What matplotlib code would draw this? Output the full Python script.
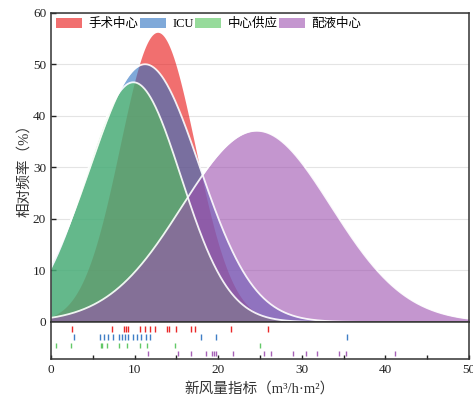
import numpy as np
import matplotlib
matplotlib.use("Agg")
import matplotlib.pyplot as plt

plt.rcParams['font.family'] = ['Liberation Serif', 'Noto Sans CJK SC', 'DejaVu Sans']
plt.rcParams['axes.unicode_minus'] = False

# ---- data ----
series = ['手术中心', 'ICU', '中心供应', '配液中心']
colors = ['#E81010', '#2A70C0', '#52C358', '#9D50AF']
edge_lines = [False, True, True, True]

# fitted normal curves (centre, spread, peak %)
curve_center = [12.75, 11.25, 9.85, 24.6]
curve_spread = [4.5, 6.5, 5.7, 8.9]
curve_peak = [56.2, 50.0, 46.5, 37.1]

# observations (rug)
obs_surgery = [2.51, 7.31, 8.74, 8.98, 9.22, 10.69, 11.29, 11.89, 12.42, 13.89,
               14.13, 15.0, 16.73, 17.28, 21.56, 26.0]
obs_icu = [2.75, 5.91, 6.31, 6.83, 7.39, 8.19, 8.5, 8.9, 9.22, 9.82, 10.33,
           10.81, 11.34, 11.82, 17.96, 19.76, 35.41]
obs_supply = [0.55, 2.35, 5.95, 6.15, 6.65, 8.15, 9.1, 10.6, 11.5, 14.8, 25.0]
obs_pharmacy = [11.55, 15.2, 16.7, 18.56, 19.24, 19.5, 19.72, 21.8, 25.45,
                26.35, 28.94, 30.52, 31.85, 34.4, 35.3, 41.15]
observations = [obs_surgery, obs_icu, obs_supply, obs_pharmacy]

xlabel = '新风量指标（m³/h·m²）'
ylabel = '相对频率（%）'

# ---- figure ----
fig = plt.figure(figsize=(4.73, 4.04), dpi=100)
ax = fig.add_axes([0.1078, 0.203, 0.8837, 0.7656])
ax2 = fig.add_axes([0.1078, 0.1114, 0.8837, 0.0916], sharex=ax)

x = np.linspace(0, 50, 600)
handles = []
for name, c, mu, sd, pk, el in zip(series, colors, curve_center, curve_spread,
                                   curve_peak, edge_lines):
    y = pk * np.exp(-0.5 * ((x - mu) / sd) ** 2)
    h = ax.fill_between(x, 0, y, color=c, alpha=0.6, linewidth=0, label=name)
    if el:
        ax.plot(x, y, color='white', lw=1.3, alpha=0.9)
    handles.append(h)

ax.set_xlim(0, 50)
ax.set_ylim(0, 60)
ax.set_yticks(np.arange(0, 61, 10))
ax.yaxis.grid(True, color='#e4e4e4', lw=0.8)
ax.set_axisbelow(True)
ax.tick_params(axis='y', direction='in', length=3.5, width=1, labelsize=9.5, colors='#222222')
ax.tick_params(axis='x', bottom=False, labelbottom=False)
for s in ax.spines.values():
    s.set_color('#333333')
    s.set_linewidth(1.1)
ax.set_ylabel(ylabel, fontsize=10.5, color='#333333', labelpad=1)

leg = ax.legend(handles=handles, loc='upper left', bbox_to_anchor=(-0.004, 1.005), ncol=4,
                frameon=False, fontsize=9, handlelength=2.1, handleheight=0.85,
                handletextpad=0.5, columnspacing=0.1, borderpad=0.35, borderaxespad=0.2)

# rug panel
rows = [3, 2, 1, 0]
for obs, c, r in zip(observations, colors, rows):
    ax2.vlines(obs, r - 0.32, r + 0.32, color=c, lw=1.0, alpha=0.9)
ax2.set_ylim(-0.7, 3.86)
ax2.set_yticks([])
ax2.set_xticks(np.arange(0, 51, 10))
ax2.set_xticks(np.arange(5, 50, 10), minor=True)
ax2.tick_params(axis='x', which='both', direction='in', length=3, width=1,
                labelsize=9.5, colors='#222222')
for s in ax2.spines.values():
    s.set_color('#333333')
    s.set_linewidth(1.1)
ax2.set_xlabel(xlabel, fontsize=10.5, color='#333333', labelpad=4)

fig.savefig('out.png', dpi=100)
